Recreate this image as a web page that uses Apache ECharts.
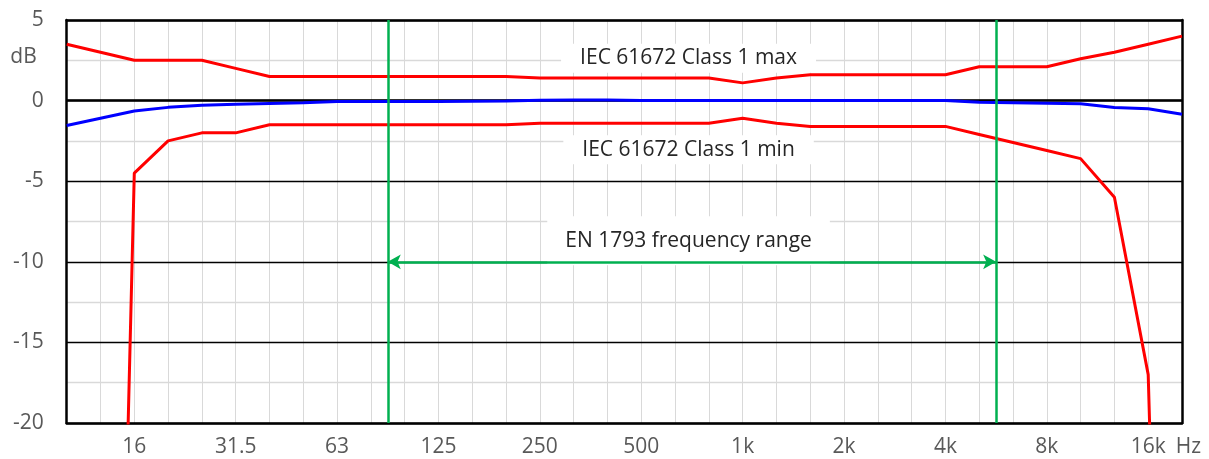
<!DOCTYPE html>
<html>
<head>
<meta charset="utf-8">
<script src="https://cdn.jsdelivr.net/npm/echarts@6/dist/echarts.min.js"></script>
<style>
  html, body { margin: 0; padding: 0; background: #fff; }
  #c { width: 1209px; height: 459px; }
</style>
</head>
<body>
<div id="c"></div>
<script>
// Third-octave band centre frequencies (one x position per band)
const bands = ['10','12.5','16','20','25','31.5','40','50','63','80',
               '100','125','160','200','250','315','400','500','630','800',
               '1k','1.25k','1.6k','2k','2.5k','3.15k','4k','5k','6.3k','8k',
               '10k','12.5k','16k','20k'];
// Bands that carry a tick label
const tickLabels = ['16','31.5','63','125','250','500','1k','2k','4k','8k','16k'];
const unitLabel = 'Hz';
const yTickLabels = [5, 0, -5, -10, -15, -20];
const yUnit = 'dB';

// IEC 61672 Class 1 tolerance limits (dB); -90 stands for "minus infinity"
const maxLimit = [3.5, 3.0, 2.5, 2.5, 2.5, 2.0, 1.5, 1.5, 1.5, 1.5,
                  1.5, 1.5, 1.5, 1.5, 1.4, 1.4, 1.4, 1.4, 1.4, 1.4,
                  1.1, 1.4, 1.6, 1.6, 1.6, 1.6, 1.6, 2.1, 2.1, 2.1,
                  2.6, 3.0, 3.5, 4.0];
const minLimit = [-90, -90, -4.5, -2.5, -2.0, -2.0, -1.5, -1.5, -1.5, -1.5,
                  -1.5, -1.5, -1.5, -1.5, -1.4, -1.4, -1.4, -1.4, -1.4, -1.4,
                  -1.1, -1.4, -1.6, -1.6, -1.6, -1.6, -1.6, -2.1, -2.6, -3.1,
                  -3.6, -6.0, -17.0, -90];
// Measured frequency response (dB)
const measured = [-1.55, -1.1, -0.65, -0.42, -0.29, -0.22, -0.18, -0.14, -0.06, -0.06,
                  -0.06, -0.05, -0.04, -0.03, 0.02, 0.04, 0.03, 0, 0, 0,
                  0, 0, 0, 0, 0, 0, 0, -0.1, -0.13, -0.16,
                  -0.2, -0.43, -0.51, -0.85];
// EN 1793 frequency range (first and last band)
const enRange = ['100', '5k'];

const textMax = 'IEC 61672 Class 1 max';
const textMin = 'IEC 61672 Class 1 min';
const textEn = 'EN 1793 frequency range';

const FONT = '"Open Sans", sans-serif';
const AXIS_COLOR = '#595959';
const TEXT_COLOR = '#262626';
const RED = '#ff0000', BLUE = '#0000ff', GREEN = '#00b050';

const xy = arr => arr.map((v, i) => [i, v]);
const enLo = bands.indexOf(enRange[0]) - 0.5;
const enHi = bands.indexOf(enRange[1]) + 0.5;
const lastIdx = bands.length - 1;

const boxLabel = (pad) => ({
  show: true,
  position: 'inside',
  formatter: p => p.name,
  color: TEXT_COLOR,
  fontFamily: FONT,
  fontSize: 21,
  lineHeight: 21,
  backgroundColor: '#ffffff',
  padding: pad
});

const chart = echarts.init(document.getElementById('c'));
chart.setOption({
  animation: false,
  backgroundColor: '#ffffff',
  grid: { left: 66.7, right: 27, top: 20, bottom: 36, containLabel: false },
  xAxis: [{
    type: 'value', min: 0, max: lastIdx, interval: 1, position: 'bottom',
    axisLine: { show: true, onZero: false, lineStyle: { color: '#000', width: 2.5 } },
    axisTick: { show: false },
    splitLine: { show: true, lineStyle: { color: '#d9d9d9', width: 1 } },
    axisLabel: {
      margin: 14, color: AXIS_COLOR, fontFamily: FONT, fontSize: 21,
      showMinLabel: true, showMaxLabel: true,
      formatter: v => {
        const name = bands[Math.round(v)];
        if (Math.round(v) === lastIdx) return '{hz|' + unitLabel + '}';
        return tickLabels.indexOf(name) >= 0 ? name : '';
      },
      rich: { hz: { color: AXIS_COLOR, fontFamily: FONT, fontSize: 21, padding: [0, 0, 0, 13] } }
    }
  }, {
    type: 'value', min: 0, max: lastIdx, position: 'top',
    axisLine: { show: true, onZero: false, lineStyle: { color: '#000', width: 2.5 } },
    axisTick: { show: false }, axisLabel: { show: false }, splitLine: { show: false }
  }],
  yAxis: [{
    type: 'value', min: -20, max: 5, interval: 2.5, z: 1,
    axisLine: { show: true, onZero: false, lineStyle: { color: '#000', width: 2.5 } },
    axisTick: { show: false },
    splitLine: { show: true, lineStyle: { color: ['#000000', '#d9d9d9'], width: 1.3 } },
    axisLabel: {
      margin: 23, color: AXIS_COLOR, fontFamily: FONT, fontSize: 21,
      showMinLabel: true, showMaxLabel: true,
      formatter: v => {
        if (yTickLabels.indexOf(v) >= 0) return String(v);
        if (v === 2.5) return '{u|' + yUnit + '}';
        return '';
      },
      rich: { u: { color: AXIS_COLOR, fontFamily: FONT, fontSize: 21, padding: [0, 7, 7, 0] } }
    }
  }, {
    type: 'value', min: -20, max: 5, position: 'right', z: 1,
    axisLine: { show: true, onZero: false, lineStyle: { color: '#000', width: 2.5 } },
    axisTick: { show: false }, axisLabel: { show: false }, splitLine: { show: false }
  }],
  series: [{
    name: 'max', type: 'line', data: xy(maxLimit), showSymbol: false, symbol: 'none',
    lineStyle: { color: RED, width: 3 }, z: 2, clip: true,
    markLine: {
      silent: true, symbol: 'none', z: 1, label: { show: false },
      lineStyle: { color: '#000', width: 2.5, type: 'solid' },
      data: [{ yAxis: 0 }]
    },
    markPoint: {
      silent: true, symbol: 'rect', symbolSize: 1, z: 5,
      itemStyle: { color: 'rgba(0,0,0,0)' },
      data: [
        { name: textMax, coord: [18.4, 2.62], label: boxLabel([8, 19, 0, 19]) },
        { name: textMin, coord: [18.4, -3.05], label: boxLabel([0, 19, 8, 19]) },
        { name: textEn, coord: [18.4, -8.7], label: boxLabel([14, 18, 14, 18]) }
      ]
    }
  }, {
    name: 'min', type: 'line', data: xy(minLimit), showSymbol: false, symbol: 'none',
    lineStyle: { color: RED, width: 3 }, z: 2, clip: true
  }, {
    name: 'measured', type: 'line', data: xy(measured), showSymbol: false, symbol: 'none',
    lineStyle: { color: BLUE, width: 3 }, z: 3, clip: true,
    markLine: {
      silent: true, symbol: 'none', z: 6, label: { show: false },
      lineStyle: { color: GREEN, width: 2.5, type: 'solid' },
      data: [
        { xAxis: enLo },
        { xAxis: enHi },
        [
          { coord: [enLo, -10], symbol: 'arrow', symbolSize: [11, 13] },
          { coord: [enHi, -10], symbol: 'arrow', symbolSize: [11, 13] }
        ]
      ]
    }
  }]
});
</script>
</body>
</html>
